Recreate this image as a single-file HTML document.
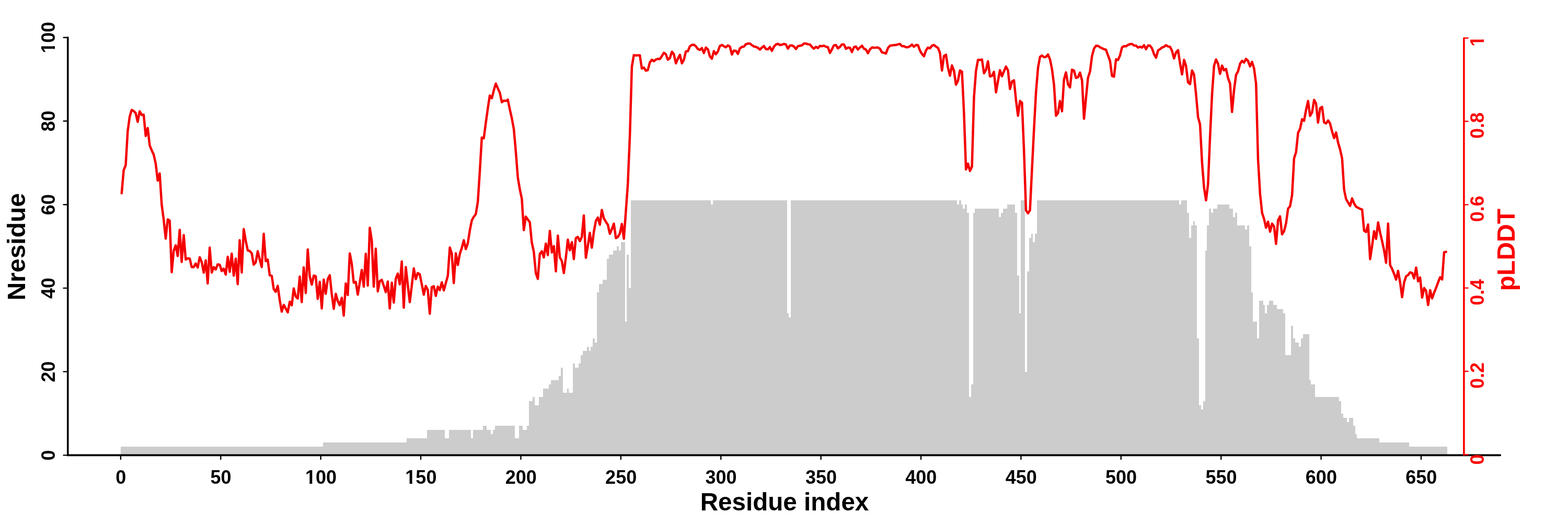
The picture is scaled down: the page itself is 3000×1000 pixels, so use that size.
<!DOCTYPE html>
<html lang="en"><head><meta charset="utf-8"><title>pLDDT and Nresidue per residue index</title>
<style>
html,body{margin:0;padding:0;background:#fff;}
body{width:3000px;height:1000px;overflow:hidden;}
svg{display:block;}
text{font-family:"Liberation Sans",sans-serif;font-weight:bold;}
.tk{font-size:36px;}
.lab{font-size:48px;}
</style></head><body>
<svg width="3000" height="1000" viewBox="0 0 3000 1000">
<rect x="0" y="0" width="3000" height="1000" fill="#ffffff"/>
<defs><clipPath id="c3" clipPathUnits="userSpaceOnUse"><path d="M-45 -45H45V-4.7H-45ZM-21.68 -5H-16.64V1.5H-21.68ZM-10 -5H45V3H-10Z"/></clipPath><clipPath id="c1" clipPathUnits="userSpaceOnUse"><path d="M-25 -45H25V-4.7H-25ZM-1.66 -5H3.38V1.5H-1.66Z"/></clipPath></defs>
<path d="M230.90 870.40H617.51V854.43H230.90ZM617.51 870.40H778.28V846.44H617.51ZM778.28 870.40H816.55V838.45H778.28ZM816.55 870.40H851.00V822.48H816.55ZM851.00 870.40H858.66V838.45H851.00ZM858.66 870.40H900.76V822.48H858.66ZM900.76 870.40H904.59V838.45H900.76ZM904.59 870.40H923.73V822.48H904.59ZM923.73 870.40H931.39V814.49H923.73ZM931.39 870.40H939.04V822.48H931.39ZM939.04 870.40H942.87V830.46H939.04ZM942.87 870.40H946.70V822.48H942.87ZM946.70 870.40H984.98V814.49H946.70ZM984.98 870.40H992.63V838.45H984.98ZM992.63 870.40H1000.29V814.49H992.63ZM1000.29 870.40H1007.94V822.48H1000.29ZM1007.94 870.40H1011.77V814.49H1007.94ZM1011.77 870.40H1019.43V766.57H1011.77ZM1019.43 870.40H1023.25V758.58H1019.43ZM1023.25 870.40H1030.91V774.56H1023.25ZM1030.91 870.40H1038.57V758.58H1030.91ZM1038.57 870.40H1050.05V742.61H1038.57ZM1050.05 870.40H1053.88V734.62H1050.05ZM1053.88 870.40H1069.19V726.63H1053.88ZM1069.19 870.40H1073.02V718.65H1069.19ZM1073.02 870.40H1076.84V702.67H1073.02ZM1076.84 870.40H1084.50V750.60H1076.84ZM1084.50 870.40H1088.33V742.61H1084.50ZM1088.33 870.40H1095.98V750.60H1088.33ZM1095.98 870.40H1099.81V694.69H1095.98ZM1099.81 870.40H1107.47V702.67H1099.81ZM1107.47 870.40H1111.29V694.69H1107.47ZM1111.29 870.40H1115.12V678.71H1111.29ZM1115.12 870.40H1122.78V670.72H1115.12ZM1122.78 870.40H1126.61V662.74H1122.78ZM1126.61 870.40H1130.43V670.72H1126.61ZM1130.43 870.40H1134.26V662.74H1130.43ZM1134.26 870.40H1138.09V646.76H1134.26ZM1138.09 870.40H1141.92V654.75H1138.09ZM1141.92 870.40H1145.74V558.91H1141.92ZM1145.74 870.40H1153.40V542.93H1145.74ZM1153.40 870.40H1161.06V534.95H1153.40ZM1161.06 870.40H1164.88V495.01H1161.06ZM1164.88 870.40H1172.54V487.02H1164.88ZM1172.54 870.40H1180.19V479.04H1172.54ZM1180.19 870.40H1184.02V471.05H1180.19ZM1184.02 870.40H1187.85V479.04H1184.02ZM1187.85 870.40H1195.51V463.06H1187.85ZM1195.51 870.40H1199.33V614.82H1195.51ZM1199.33 870.40H1203.16V487.02H1199.33ZM1203.16 870.40H1206.99V550.92H1203.16ZM1206.99 870.40H1360.10V383.19H1206.99ZM1360.10 870.40H1363.93V391.18H1360.10ZM1363.93 870.40H1505.56V383.19H1363.93ZM1505.56 870.40H1509.39V598.84H1505.56ZM1509.39 870.40H1513.21V606.83H1509.39ZM1513.21 870.40H1830.92V383.19H1513.21ZM1830.92 870.40H1834.75V391.18H1830.92ZM1834.75 870.40H1838.58V383.19H1834.75ZM1838.58 870.40H1842.40V391.18H1838.58ZM1842.40 870.40H1846.23V399.17H1842.40ZM1846.23 870.40H1850.06V391.18H1846.23ZM1850.06 870.40H1853.89V407.15H1850.06ZM1853.89 870.40H1857.72V758.58H1853.89ZM1857.72 870.40H1861.54V734.62H1857.72ZM1861.54 870.40H1865.37V407.15H1861.54ZM1865.37 870.40H1911.30V399.17H1865.37ZM1911.30 870.40H1915.13V415.14H1911.30ZM1915.13 870.40H1918.96V407.15H1915.13ZM1918.96 870.40H1926.62V399.17H1918.96ZM1926.62 870.40H1941.93V391.18H1926.62ZM1941.93 870.40H1945.75V407.15H1941.93ZM1945.75 870.40H1949.58V526.96H1945.75ZM1949.58 870.40H1953.41V598.84H1949.58ZM1953.41 870.40H1961.07V383.19H1953.41ZM1961.07 870.40H1964.89V710.66H1961.07ZM1964.89 870.40H1968.72V518.97H1964.89ZM1968.72 870.40H1972.55V455.08H1968.72ZM1972.55 870.40H1976.38V447.09H1972.55ZM1976.38 870.40H1980.20V463.06H1976.38ZM1980.20 870.40H1984.03V447.09H1980.20ZM1984.03 870.40H2255.81V383.19H1984.03ZM2255.81 870.40H2259.63V391.18H2255.81ZM2259.63 870.40H2271.12V383.19H2259.63ZM2271.12 870.40H2274.95V407.15H2271.12ZM2274.95 870.40H2278.77V455.08H2274.95ZM2278.77 870.40H2282.60V431.11H2278.77ZM2282.60 870.40H2286.43V423.13H2282.60ZM2286.43 870.40H2290.26V431.11H2286.43ZM2290.26 870.40H2294.08V646.76H2290.26ZM2294.08 870.40H2297.91V774.56H2294.08ZM2297.91 870.40H2301.74V782.54H2297.91ZM2301.74 870.40H2305.57V766.57H2301.74ZM2305.57 870.40H2309.40V479.04H2305.57ZM2309.40 870.40H2313.22V431.11H2309.40ZM2313.22 870.40H2317.05V399.17H2313.22ZM2317.05 870.40H2320.88V407.15H2317.05ZM2320.88 870.40H2328.53V399.17H2320.88ZM2328.53 870.40H2351.50V391.18H2328.53ZM2351.50 870.40H2359.16V399.17H2351.50ZM2359.16 870.40H2362.98V415.14H2359.16ZM2362.98 870.40H2366.81V407.15H2362.98ZM2366.81 870.40H2382.12V431.11H2366.81ZM2382.12 870.40H2385.95V439.10H2382.12ZM2385.95 870.40H2389.78V431.11H2385.95ZM2389.78 870.40H2393.61V471.05H2389.78ZM2393.61 870.40H2397.43V558.91H2393.61ZM2397.43 870.40H2405.09V614.82H2397.43ZM2405.09 870.40H2408.92V646.76H2405.09ZM2408.92 870.40H2416.57V574.88H2408.92ZM2416.57 870.40H2420.40V582.87H2416.57ZM2420.40 870.40H2424.23V598.84H2420.40ZM2424.23 870.40H2428.06V582.87H2424.23ZM2428.06 870.40H2435.71V574.88H2428.06ZM2435.71 870.40H2443.37V582.87H2435.71ZM2443.37 870.40H2454.85V590.86H2443.37ZM2454.85 870.40H2458.68V598.84H2454.85ZM2458.68 870.40H2470.16V678.71H2458.68ZM2470.16 870.40H2473.99V622.80H2470.16ZM2473.99 870.40H2477.82V646.76H2473.99ZM2477.82 870.40H2485.47V654.75H2477.82ZM2485.47 870.40H2489.30V662.74H2485.47ZM2489.30 870.40H2493.13V646.76H2489.30ZM2493.13 870.40H2504.61V638.78H2493.13ZM2504.61 870.40H2508.44V726.63H2504.61ZM2508.44 870.40H2516.10V734.62H2508.44ZM2516.10 870.40H2562.03V758.58H2516.10ZM2562.03 870.40H2565.86V766.57H2562.03ZM2565.86 870.40H2569.69V790.53H2565.86ZM2569.69 870.40H2577.34V798.52H2569.69ZM2577.34 870.40H2581.17V806.50H2577.34ZM2581.17 870.40H2588.82V798.52H2581.17ZM2588.82 870.40H2592.65V814.49H2588.82ZM2592.65 870.40H2596.48V830.46H2592.65ZM2596.48 870.40H2638.59V838.45H2596.48ZM2638.59 870.40H2696.00V846.44H2638.59ZM2696.00 870.40H2768.73V854.43H2696.00Z" fill="#cccccc" stroke="none" shape-rendering="crispEdges"/>
<g stroke="#000" fill="none" stroke-linecap="round">
<path d="M129.75 71.70V870.40H2870.3" stroke-width="3.6" stroke-linejoin="miter"/>
<path d="M129.75 870.40H121.6M129.75 710.66H121.6M129.75 550.92H121.6M129.75 391.18H121.6M129.75 231.44H121.6M129.75 71.70H121.6M230.90 870.40V878M422.29 870.40V878M613.68 870.40V878M805.07 870.40V878M996.46 870.40V878M1187.85 870.40V878M1379.24 870.40V878M1570.63 870.40V878M1762.02 870.40V878M1953.41 870.40V878M2144.80 870.40V878M2336.19 870.40V878M2527.58 870.40V878M2718.97 870.40V878" stroke-width="2.4"/>
</g>
<g stroke="#fa0000" fill="none" stroke-linecap="round">
<path d="M2800.9 73.30V869.30" stroke-width="3.6"/>
<path d="M2800.9 869.30H2808.6M2800.9 709.98H2808.6M2800.9 550.66H2808.6M2800.9 391.34H2808.6M2800.9 232.02H2808.6M2800.9 72.70H2808.6" stroke-width="2.4"/>
</g>
<polyline fill="none" stroke="#f40000" stroke-width="4.5" stroke-linejoin="round" stroke-linecap="round" points="232.8,369.5 236.6,325.6 240.5,315.7 244.3,251.2 248.1,223.3 251.9,210.2 255.8,212.2 259.6,216.3 263.4,233.0 267.3,212.8 271.1,219.8 274.9,219.2 278.8,260.0 282.6,244.8 286.4,278.0 290.2,287.3 294.1,295.7 297.9,312.7 301.7,345.3 305.5,331.6 309.4,391.4 313.2,420.0 317.0,456.2 320.9,419.4 324.7,421.8 328.5,520.5 332.3,479.6 336.2,469.0 340.0,489.5 343.8,439.5 347.6,500.8 351.5,449.4 355.3,496.3 359.1,494.0 363.0,494.5 366.8,510.7 370.6,510.7 374.4,503.9 378.3,511.4 382.1,491.8 385.9,500.8 389.8,521.3 393.6,497.8 397.4,542.0 401.2,473.6 405.1,521.3 408.9,510.7 412.7,515.2 416.6,505.4 420.4,506.1 424.2,518.3 428.0,513.7 431.9,525.0 435.7,491.0 439.5,519.8 443.3,485.0 447.2,527.0 451.0,494.5 454.8,543.3 458.6,459.2 462.5,521.0 466.3,438.0 470.1,460.0 474.0,478.9 477.8,480.0 481.6,484.2 485.4,506.1 489.3,501.6 493.1,480.4 496.9,496.3 500.8,510.7 504.6,447.1 508.4,499.3 512.2,496.3 516.1,526.4 519.9,527.5 523.7,552.7 527.5,558.0 531.4,546.6 535.2,573.9 539.0,595.8 542.9,583.0 546.7,589.8 550.5,597.3 554.4,576.9 558.2,583.7 562.0,551.5 565.8,567.0 569.7,570.8 573.5,528.8 577.3,577.7 581.1,511.2 585.0,560.2 588.8,477.0 592.6,528.4 596.5,544.3 600.3,526.9 604.1,528.1 607.9,571.6 611.8,539.0 615.6,589.8 619.4,534.5 623.2,561.8 627.1,533.7 630.9,526.2 634.7,561.8 638.6,590.5 642.4,561.8 646.2,575.4 650.0,583.7 653.9,569.3 657.7,603.4 661.5,542.1 665.4,564.0 669.2,484.5 673.0,504.2 676.8,540.6 680.7,539.0 684.5,563.3 688.3,540.6 692.1,516.3 696.0,548.1 699.8,485.3 703.6,545.9 707.5,435.4 711.3,460.0 715.1,548.1 718.9,475.6 722.8,557.2 726.6,537.4 730.4,535.2 734.3,546.6 738.1,558.7 741.9,538.3 745.7,589.8 749.6,540.6 753.4,578.4 757.2,533.0 761.0,523.1 764.9,543.6 768.7,500.0 772.5,588.3 776.4,510.7 780.2,545.1 784.0,577.7 787.8,546.6 791.7,513.3 795.5,533.7 799.3,522.0 803.2,524.6 807.0,543.7 810.8,563.4 814.6,546.7 818.5,554.5 822.3,599.9 826.1,549.0 830.0,547.4 833.8,565.8 837.6,548.0 841.4,554.7 845.3,539.7 849.1,555.3 852.9,541.4 856.8,527.4 860.6,473.3 864.4,485.0 868.2,541.3 872.1,484.3 875.9,506.6 879.7,485.7 883.5,474.3 887.4,459.4 891.2,476.3 895.0,465.3 898.9,440.3 902.7,421.4 906.5,414.5 910.3,409.5 914.2,386.0 918.0,328.0 921.8,263.0 925.6,264.5 929.5,234.8 933.3,207.5 937.1,182.6 941.0,187.8 944.8,172.7 948.6,159.8 952.4,168.9 956.3,177.3 960.1,195.4 963.9,192.4 967.8,193.1 971.6,190.6 975.4,209.0 979.2,225.7 983.1,246.9 986.9,290.0 990.7,339.0 994.5,361.8 998.4,380.0 1002.2,440.0 1006.0,414.2 1009.9,419.8 1013.7,425.1 1017.5,463.7 1021.3,481.2 1025.2,522.0 1029.0,533.3 1032.8,485.7 1036.7,480.4 1040.5,492.2 1044.3,465.7 1048.1,487.7 1052.0,441.5 1055.8,482.7 1059.6,470.6 1063.5,518.8 1067.3,450.6 1071.1,492.0 1074.9,499.0 1078.8,522.1 1082.6,493.0 1086.4,458.2 1090.2,478.5 1094.1,463.0 1097.9,495.4 1101.7,455.3 1105.5,453.0 1109.4,461.0 1113.2,453.0 1117.0,411.9 1120.9,493.0 1124.7,469.9 1128.5,445.3 1132.3,473.6 1136.2,443.1 1140.0,422.7 1143.8,416.0 1147.7,429.6 1151.5,401.6 1155.3,417.5 1159.1,423.9 1163.0,429.7 1166.8,447.0 1170.6,438.4 1174.5,427.6 1178.3,455.2 1182.1,453.0 1185.9,446.6 1189.8,428.2 1193.6,456.4 1197.4,405.0 1201.2,352.0 1205.1,259.0 1208.9,127.5 1212.7,105.4 1216.6,106.0 1220.4,105.8 1224.2,105.8 1228.0,131.0 1231.9,129.3 1235.7,135.1 1239.5,134.0 1243.3,119.4 1247.2,114.2 1251.0,117.0 1254.8,113.8 1258.7,112.6 1262.5,113.0 1266.3,107.2 1270.2,100.8 1274.0,103.7 1277.8,114.2 1281.6,111.2 1285.5,99.0 1289.3,103.7 1293.1,121.1 1296.9,112.4 1300.8,104.8 1304.6,121.1 1308.4,114.7 1312.2,98.4 1316.1,97.8 1319.9,88.5 1323.7,85.9 1327.6,85.4 1331.4,88.5 1335.2,93.8 1339.0,95.5 1342.9,92.0 1346.7,101.3 1350.5,90.9 1354.4,94.4 1358.2,107.7 1362.0,112.2 1365.8,97.8 1369.7,103.7 1373.5,98.4 1377.3,87.9 1381.2,85.9 1385.0,88.5 1388.8,90.5 1392.6,86.8 1396.5,89.1 1400.3,104.3 1404.1,96.7 1408.0,97.3 1411.8,103.1 1415.6,92.6 1419.4,89.7 1423.3,89.1 1427.1,84.5 1430.9,83.3 1434.7,83.3 1438.6,86.2 1442.4,88.9 1446.2,89.7 1450.0,91.4 1453.9,94.9 1457.7,90.9 1461.5,87.9 1465.4,93.8 1469.2,94.4 1473.0,90.0 1476.8,97.3 1480.7,89.3 1484.5,85.0 1488.3,83.8 1492.2,85.9 1496.0,85.5 1499.8,84.0 1503.6,84.9 1507.5,92.9 1511.3,87.3 1515.1,86.7 1519.0,89.0 1522.8,93.7 1526.6,88.2 1530.4,87.5 1534.3,86.7 1538.1,83.2 1541.9,83.2 1545.8,84.7 1549.6,84.9 1553.4,89.6 1557.2,93.1 1561.1,89.6 1564.9,91.9 1568.7,87.8 1572.5,88.4 1576.4,87.3 1580.2,89.4 1584.0,90.2 1587.9,101.2 1591.7,94.3 1595.5,86.7 1599.3,86.1 1603.2,92.5 1607.0,89.6 1610.8,84.9 1614.7,84.9 1618.5,93.3 1622.3,91.0 1626.1,91.3 1630.0,99.5 1633.8,90.2 1637.6,89.0 1641.4,94.8 1645.3,90.8 1649.1,87.3 1652.9,93.1 1656.8,94.8 1660.6,101.8 1664.4,94.3 1668.2,90.8 1672.1,91.3 1675.9,91.1 1679.7,90.8 1683.5,93.1 1687.4,100.1 1691.2,101.0 1695.0,102.4 1698.9,91.9 1702.7,87.5 1706.5,86.7 1710.3,86.3 1714.2,86.1 1718.0,84.9 1721.8,84.0 1725.7,88.2 1729.5,88.2 1733.3,90.2 1737.1,90.2 1741.0,88.4 1744.8,85.2 1748.6,89.4 1752.5,86.1 1756.3,86.3 1760.1,96.6 1763.9,103.0 1767.8,107.6 1771.6,96.6 1775.4,91.0 1779.2,92.5 1783.1,87.3 1786.9,85.9 1790.7,89.0 1794.6,91.7 1798.4,101.2 1802.2,134.7 1806.0,107.1 1809.9,104.7 1813.7,129.2 1817.5,144.6 1821.3,125.1 1825.2,135.4 1829.0,161.9 1832.8,154.5 1836.7,134.6 1840.5,137.2 1844.3,215.0 1848.2,324.0 1852.0,312.8 1855.8,326.9 1859.6,318.9 1863.5,186.0 1867.3,135.6 1871.1,114.6 1874.9,114.6 1878.8,113.8 1882.6,140.0 1886.4,133.8 1890.2,117.2 1894.1,146.2 1897.9,145.0 1901.7,137.4 1905.6,176.5 1909.4,155.0 1913.2,134.1 1917.0,145.8 1920.9,136.2 1924.7,127.4 1928.5,134.5 1932.4,170.1 1936.2,155.6 1940.0,153.5 1943.8,190.6 1947.7,221.3 1951.5,193.1 1955.3,196.4 1959.2,289.0 1963.0,402.1 1966.8,407.7 1970.6,402.1 1974.5,322.5 1978.3,247.0 1982.1,177.0 1986.0,129.6 1989.8,108.8 1993.6,106.1 1997.4,109.4 2001.3,108.8 2005.1,104.2 2008.9,113.5 2012.7,131.9 2016.6,162.0 2020.4,221.3 2024.2,216.2 2028.0,193.1 2031.9,212.6 2035.7,152.1 2039.5,138.3 2043.4,161.4 2047.2,167.1 2051.0,133.3 2054.8,134.8 2058.7,149.0 2062.5,147.6 2066.3,138.9 2070.2,153.3 2074.0,227.1 2077.8,187.0 2081.6,149.0 2085.5,136.6 2089.3,107.1 2093.1,93.1 2096.9,87.5 2100.8,87.8 2104.6,90.2 2108.4,92.2 2112.3,94.0 2116.1,95.2 2119.9,105.9 2123.8,116.4 2127.6,145.2 2131.4,146.5 2135.2,113.5 2139.1,114.6 2142.9,105.9 2146.7,90.8 2150.5,88.2 2154.4,88.4 2158.2,85.9 2162.0,84.4 2165.8,84.0 2169.7,87.0 2173.5,87.3 2177.3,90.8 2181.2,89.4 2185.0,91.0 2188.8,86.3 2192.7,94.0 2196.5,87.0 2200.3,87.3 2204.1,92.5 2208.0,103.6 2211.8,110.3 2215.6,96.6 2219.4,94.0 2223.3,90.8 2227.1,89.4 2230.9,86.3 2234.8,89.0 2238.6,89.4 2242.4,97.2 2246.2,111.7 2250.1,100.1 2253.9,96.0 2257.7,121.0 2261.6,142.3 2265.4,114.6 2269.2,126.0 2273.0,157.4 2276.9,160.7 2280.7,134.8 2284.5,142.7 2288.3,180.1 2292.2,224.0 2296.0,237.8 2299.8,310.0 2303.7,359.0 2307.5,383.1 2311.3,352.0 2315.1,262.0 2319.0,180.0 2322.8,126.0 2326.6,113.7 2330.4,121.7 2334.3,141.3 2338.1,125.5 2341.9,134.5 2345.8,131.9 2349.6,149.5 2353.4,159.7 2357.2,214.1 2361.1,172.0 2364.9,143.4 2368.7,136.4 2372.6,121.8 2376.4,116.3 2380.2,119.5 2384.0,112.7 2387.9,116.6 2391.7,126.9 2395.5,118.3 2399.3,130.6 2403.2,160.0 2407.0,305.0 2410.8,370.0 2414.7,407.0 2418.5,418.8 2422.3,435.4 2426.1,424.0 2430.0,443.0 2433.8,427.6 2437.6,433.0 2441.4,466.2 2445.3,420.9 2449.1,413.7 2452.9,448.1 2456.8,442.0 2460.6,426.7 2464.4,399.0 2468.2,394.5 2472.1,373.0 2475.9,303.0 2479.7,290.8 2483.6,253.7 2487.4,246.2 2491.2,228.0 2495.0,231.0 2498.9,210.0 2502.7,193.1 2506.5,221.6 2510.3,215.1 2514.2,191.0 2518.0,198.0 2521.8,234.5 2525.7,206.8 2529.5,204.5 2533.3,234.1 2537.2,236.0 2541.0,230.3 2544.8,236.3 2548.6,251.5 2552.5,264.0 2556.3,253.3 2560.1,272.7 2563.9,285.5 2567.8,303.0 2571.6,362.4 2575.4,380.6 2579.3,387.4 2583.1,393.6 2586.9,379.3 2590.7,389.0 2594.6,395.2 2598.4,397.2 2602.2,399.3 2606.1,400.7 2609.9,441.2 2613.7,443.6 2617.5,429.2 2621.4,495.5 2625.2,470.2 2629.0,442.1 2632.8,456.8 2636.7,425.2 2640.5,444.7 2644.3,461.0 2648.2,479.0 2652.0,502.5 2655.8,427.5 2659.6,506.5 2663.5,514.3 2667.3,523.6 2671.1,534.6 2674.9,518.0 2678.8,540.0 2682.6,568.2 2686.4,540.0 2690.3,528.2 2694.1,525.9 2697.9,520.7 2701.7,521.8 2705.6,532.2 2709.4,511.6 2713.2,537.7 2717.1,530.6 2720.9,569.1 2724.7,550.8 2728.5,556.1 2732.4,583.1 2736.2,554.7 2740.0,570.5 2743.8,559.8 2747.7,550.2 2751.5,539.9 2755.3,530.0 2759.2,534.3 2763.0,482.2 2766.8,481.6"/>
<g class="tk" fill="#000" text-anchor="middle">
<g transform="translate(231.20 925.2)"><text>0</text></g>
<g transform="translate(422.59 925.2)"><text>50</text></g>
<g transform="translate(613.98 925.2)"><text clip-path="url(#c3)">100</text></g>
<g transform="translate(805.37 925.2)"><text clip-path="url(#c3)">150</text></g>
<g transform="translate(996.76 925.2)"><text>200</text></g>
<g transform="translate(1188.15 925.2)"><text>250</text></g>
<g transform="translate(1379.54 925.2)"><text>300</text></g>
<g transform="translate(1570.93 925.2)"><text>350</text></g>
<g transform="translate(1762.32 925.2)"><text>400</text></g>
<g transform="translate(1953.71 925.2)"><text>450</text></g>
<g transform="translate(2145.10 925.2)"><text>500</text></g>
<g transform="translate(2336.49 925.2)"><text>550</text></g>
<g transform="translate(2527.88 925.2)"><text>600</text></g>
<g transform="translate(2719.27 925.2)"><text>650</text></g>
<g transform="translate(104.6 870.40) rotate(-90)"><text>0</text></g>
<g transform="translate(104.6 710.66) rotate(-90)"><text>20</text></g>
<g transform="translate(104.6 550.92) rotate(-90)"><text>40</text></g>
<g transform="translate(104.6 391.18) rotate(-90)"><text>60</text></g>
<g transform="translate(104.6 231.44) rotate(-90)"><text>80</text></g>
<g transform="translate(104.6 71.70) rotate(-90)"><text clip-path="url(#c3)">100</text></g>
</g>
<g class="tk" fill="#fa0000" text-anchor="middle">
<g transform="translate(2839.3 878.40) rotate(-90)"><text>0</text></g>
<g transform="translate(2839.3 717.98) rotate(-90)"><text>0.2</text></g>
<g transform="translate(2839.3 558.66) rotate(-90)"><text>0.4</text></g>
<g transform="translate(2839.3 399.34) rotate(-90)"><text>0.6</text></g>
<g transform="translate(2839.3 240.02) rotate(-90)"><text>0.8</text></g>
<g transform="translate(2839.3 78.90) rotate(-90)"><text clip-path="url(#c1)">1</text></g>
</g>
<g class="lab" text-anchor="middle">
<text x="1501" y="976.2" fill="#000" style="font-size:47.6px">Residue index</text>
<text transform="translate(47.9 471.7) rotate(-90)" fill="#000">Nresidue</text>
<text transform="translate(2898.2 477.6) rotate(-90)" fill="#fa0000">pLDDT</text>
</g>
</svg></body></html>
